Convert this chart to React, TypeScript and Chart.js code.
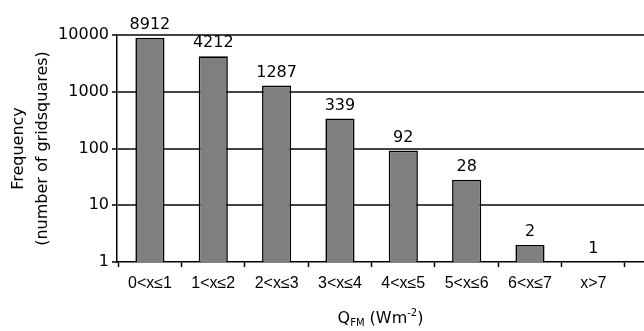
import { useEffect, useRef } from "react";
import { Chart, registerables } from "chart.js";

Chart.register(...registerables);

// Frequency distribution of Q_FM across gridsquares
const categories = ["0<x≤1", "1<x≤2", "2<x≤3", "3<x≤4", "4<x≤5", "5<x≤6", "6<x≤7", "x>7"];
const frequencies = [8912, 4212, 1287, 339, 92, 28, 2, 1];
const yTickValues = [1, 10, 100, 1000, 10000];
const yTitleLines = ["Frequency", "(number of gridsquares)"];

const NUM_FONT = "'DejaVu Sans', sans-serif";
const LABEL_FONT = "'Liberation Sans', Arial, sans-serif";

// Value printed above each bar, positioned from the bar elements
const valueLabels = {
  id: "valueLabels",
  afterDatasetsDraw(chart: any) {
    const ctx = chart.ctx;
    const meta = chart.getDatasetMeta(0);
    ctx.save();
    ctx.font = `16px ${NUM_FONT}`;
    ctx.fillStyle = "#000";
    ctx.textAlign = "center";
    ctx.textBaseline = "bottom";
    meta.data.forEach((bar: any, i: number) => {
      ctx.fillText(String(frequencies[i]), bar.x, bar.y - 5);
    });
    ctx.restore();
  },
};

// X axis title with subscript and superscript
const xAxisTitle = {
  id: "xAxisTitle",
  afterDraw(chart: any) {
    const { ctx, chartArea } = chart;
    const parts = [
      { text: "Q", size: 16, dy: 0 },
      { text: "FM", size: 10, dy: 3 },
      { text: " (Wm", size: 16, dy: 0 },
      { text: "-2", size: 10, dy: -7 },
      { text: ")", size: 16, dy: 0 },
    ];
    ctx.save();
    ctx.fillStyle = "#000";
    ctx.textBaseline = "alphabetic";
    ctx.textAlign = "left";
    let total = 0;
    const widths = parts.map((p) => {
      ctx.font = `${p.size}px ${NUM_FONT}`;
      const w = ctx.measureText(p.text).width;
      total += w;
      return w;
    });
    const baseline = chart.scales.x.bottom - 8;
    let x = (chartArea.left + chartArea.right) / 2 - total / 2;
    parts.forEach((p, i) => {
      ctx.font = `${p.size}px ${NUM_FONT}`;
      ctx.fillText(p.text, x, baseline + p.dy);
      x += widths[i];
    });
    ctx.restore();
  },
};

export default function App() {
  const canvasRef = useRef<HTMLCanvasElement | null>(null);

  useEffect(() => {
    if (!canvasRef.current) return;
    const chart = new Chart(canvasRef.current, {
      type: "bar",
      data: {
        datasets: [
          {
            data: frequencies.map((v, i) => ({ x: i, y: v })),
            backgroundColor: "#7f7f7f",
            borderColor: "#000",
            borderWidth: (c: any) => (frequencies[c.dataIndex] > 1 ? 1.6 : 0),
            barPercentage: 0.46,
            categoryPercentage: 1,
          },
        ],
      },
      options: {
        responsive: false,
        animation: false,
        devicePixelRatio: 1,
        layout: { padding: { top: 35, right: 0, left: 0, bottom: 0 } },
        plugins: {
          legend: { display: false },
          tooltip: { enabled: false },
        },
        scales: {
          x: {
            type: "linear",
            min: -0.52,
            max: 7.8,
            offset: false,
            afterBuildTicks: (scale: any) => {
              scale.ticks = categories.map((_, i) => ({ value: i }));
            },
            afterFit: (scale: any) => {
              scale.height = 69;
            },
            ticks: {
              callback: (v: any) => categories[v] ?? "",
              font: { family: LABEL_FONT, size: 16 },
              color: "#000",
              padding: 7,
              maxRotation: 0,
              autoSkip: false,
            },
            grid: {
              offset: true,
              drawOnChartArea: false,
              drawTicks: true,
              tickLength: 5,
              tickColor: "#000",
              tickWidth: 1.5,
            },
            border: { display: true, color: "#000", width: 1.5 },
          },
          y: {
            type: "logarithmic",
            min: 1,
            max: 10000,
            afterBuildTicks: (scale: any) => {
              scale.ticks = yTickValues.map((v) => ({ value: v }));
            },
            afterFit: (scale: any) => {
              scale.width = 117;
            },
            ticks: {
              callback: (v: any) => String(v),
              font: { family: NUM_FONT, size: 16 },
              color: "#000",
              padding: 3,
            },
            grid: {
              color: (c: any) => (c.tick && c.tick.value === 1 ? "rgba(0,0,0,0)" : "#444"),
              lineWidth: 2,
              drawTicks: true,
              tickLength: 5,
              tickColor: "#000",
              tickWidth: 1.5,
            },
            border: { display: true, color: "#000", width: 1.5 },
            title: {
              display: true,
              text: yTitleLines,
              font: { family: NUM_FONT, size: 16, lineHeight: 1.5 },
              color: "#000",
              padding: { top: 7, bottom: 0 },
            },
          },
        },
      },
      plugins: [valueLabels, xAxisTitle],
    } as any);
    return () => chart.destroy();
  }, []);

  return (
    <div style={{ position: "fixed", left: 0, top: 0, width: 644, height: 331, background: "#fff" }}>
      <canvas ref={canvasRef} width={644} height={331} />
    </div>
  );
}
